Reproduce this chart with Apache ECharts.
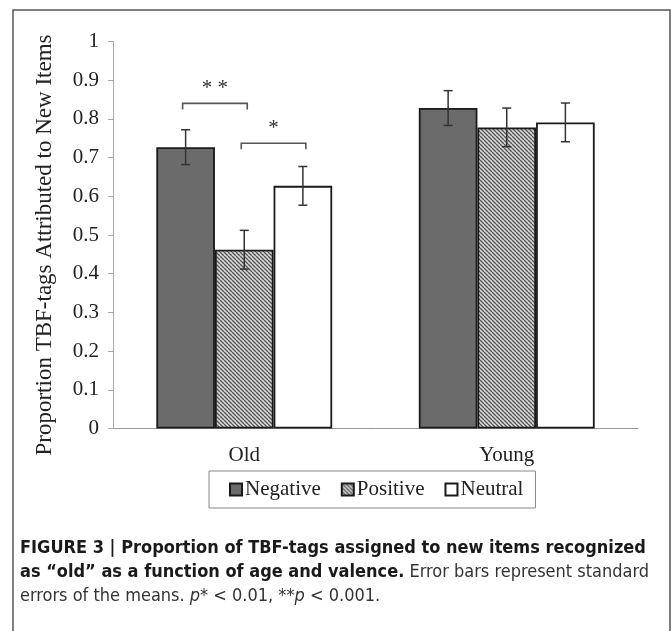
<!DOCTYPE html>
<html>
<head>
<meta charset="utf-8">
<script src="https://cdn.jsdelivr.net/npm/echarts@6/dist/echarts.min.js"></script>
<style>
html,body{margin:0;padding:0;background:#fff;}
#chart{width:671px;height:631px;}
</style>
</head>
<body>
<div id="chart"></div>
<script>
// ---- data ----
const categories = ['Old', 'Young'];
const seriesNames = ['Negative', 'Positive', 'Neutral'];
const negativeMeans = [0.727, 0.828];
const positiveMeans = [0.462, 0.778];
const neutralMeans = [0.627, 0.791];
const negativeSE = [0.045, 0.045];
const positiveSE = [0.050, 0.050];
const neutralSE = [0.050, 0.050];
const yTicks = [0, 0.1, 0.2, 0.3, 0.4, 0.5, 0.6, 0.7, 0.8, 0.9, 1];
// significance brackets: [categoryIndex, fromSeries, toSeries, bracketLevel, label]
const sigBrackets = [
  [0, 0, 1, 0.840, '* *'],
  [0, 1, 2, 0.737, '*']
];
const yAxisTitle = 'Proportion TBF-tags Attributed to New Items';

const serifFont = '"Liberation Serif", "Times New Roman", serif';
const capFont = '"Liberation Sans Narrow", "DejaVu Sans Condensed", "Liberation Sans", sans-serif';

// hatch pattern
function makeHatch() {
  const c = document.createElement('canvas');
  c.width = 4; c.height = 4;
  const g = c.getContext('2d');
  g.fillStyle = '#d8d8d8';
  g.fillRect(0, 0, 4, 4);
  g.strokeStyle = '#555';
  g.lineWidth = 1.3;
  g.beginPath();
  for (let k = -4; k <= 8; k += 4) {
    g.moveTo(k, 0); g.lineTo(k + 4, 4);
  }
  g.stroke();
  return c;
}
const hatch = { image: makeHatch(), repeat: 'repeat' };

const fills = ['#6b6b6b', hatch, '#ffffff'];
const means = [negativeMeans, positiveMeans, neutralMeans];
const ses = [negativeSE, positiveSE, neutralSE];
const gapFrac = 0.33;

const chart = echarts.init(document.getElementById('chart'), null, { renderer: 'canvas' });

const series = [];
seriesNames.forEach((name, k) => {
  series.push({
    name: name,
    type: 'bar',
    data: means[k],
    barGap: '0%',
    barCategoryGap: '33%',
    itemStyle: { color: fills[k], borderColor: '#1a1a1a', borderWidth: 1.8 },
    emphasis: { disabled: true },
    z: 2
  });
});
// error bars
seriesNames.forEach((name, k) => {
  series.push({
    type: 'custom',
    name: name + '-err',
    data: categories.map((c, i) => [i, means[k][i], ses[k][i]]),
    z: 5,
    silent: true,
    renderItem: function (params, api) {
      const ci = api.value(0);
      const m = api.value(1), se = api.value(2);
      const band = api.size([1, 0])[0];
      const bw = band * (1 - gapFrac) / 3;
      const cx = api.coord([ci, m])[0] + (k - 1) * bw;
      const yTop = api.coord([ci, m + se])[1];
      const yBot = api.coord([ci, m - se])[1];
      const cap = 4.5;
      const st = { stroke: '#333', lineWidth: 1.5 };
      return {
        type: 'group',
        children: [
          { type: 'line', shape: { x1: cx, y1: yTop, x2: cx, y2: yBot }, style: st },
          { type: 'line', shape: { x1: cx - cap, y1: yTop, x2: cx + cap, y2: yTop }, style: st },
          { type: 'line', shape: { x1: cx - cap, y1: yBot, x2: cx + cap, y2: yBot }, style: st }
        ]
      };
    }
  });
});
// significance brackets
series.push({
  type: 'custom',
  name: 'sig',
  data: sigBrackets,
  z: 6,
  silent: true,
  renderItem: function (params, api) {
    const ci = api.value(0);
    const a = api.value(1), b = api.value(2), lvl = api.value(3);
    const label = sigBrackets[params.dataIndex][4];
    const band = api.size([1, 0])[0];
    const bw = band * (1 - gapFrac) / 3;
    const p = api.coord([ci, lvl]);
    const x1 = p[0] + (a - 1) * bw - 3;
    const x2 = p[0] + (b - 1) * bw + 3;
    const y = p[1];
    const st = { stroke: '#555', lineWidth: 1.6, fill: null };
    return {
      type: 'group',
      children: [
        { type: 'polyline', shape: { points: [[x1, y + 6], [x1, y], [x2, y], [x2, y + 6]] }, style: st },
        { type: 'text', x: (x1 + x2) / 2, y: y - 4, style: { text: label, fill: '#333', font: '21px ' + serifFont, textAlign: 'center', textVerticalAlign: 'bottom' } }
      ]
    };
  }
});

const option = {
  animation: false,
  backgroundColor: '#ffffff',
  grid: { left: 113, right: 33, top: 41.5, bottom: 202.5, containLabel: false },
  xAxis: {
    type: 'category',
    data: categories,
    axisLine: { show: true, lineStyle: { color: '#999', width: 1 } },
    axisTick: { show: false },
    axisLabel: { color: '#222', fontFamily: serifFont, fontSize: 21, margin: 16 }
  },
  yAxis: {
    type: 'value',
    min: 0, max: 1, interval: 0.1,
    axisLine: { show: true, lineStyle: { color: '#aaa', width: 1 } },
    axisTick: { show: true, inside: false, length: 5, lineStyle: { color: '#aaa' } },
    splitLine: { show: false },
    axisLabel: {
      color: '#222', fontFamily: serifFont, fontSize: 21, margin: 14,
      formatter: function (v) { const t = yTicks.find(x => Math.abs(x - v) < 1e-9); return t === undefined ? '' : String(t); }
    }
  },
  legend: {
    data: seriesNames,
    left: 209, top: 471,
    orient: 'horizontal',
    padding: [8, 12, 8, 20],
    itemGap: 20,
    itemWidth: 12, itemHeight: 12,
    icon: 'rect',
    borderColor: '#888', borderWidth: 1,
    selectedMode: false,
    textStyle: { color: '#222', fontFamily: serifFont, fontSize: 21, padding: [0, 0, 0, -2] }
  },
  graphic: [
    { type: 'rect', shape: { x: 13, y: 10, width: 657, height: 640 }, style: { fill: null, stroke: '#555', lineWidth: 1.5 }, silent: true, z: 100 },
    {
      type: 'text', x: 45, y: 245, rotation: Math.PI / 2, silent: true, z: 100,
      style: { text: yAxisTitle, font: '23px ' + serifFont, fill: '#222', textAlign: 'center', textVerticalAlign: 'middle' }
    },
    {
      type: 'text', left: 20, top: 536, silent: true, z: 100,
      style: {
        text: '{b|FIGURE 3 | Proportion of TBF-tags assigned to new items recognized}\n{b|as \u201cold\u201d as a function of age and valence.}{r| Error bars represent standard}\n{r|errors of the means. }{i|p}{r|* < 0.01, **}{i|p}{r| < 0.001.}',
        font: '18px ' + capFont,
        fill: '#222',
        lineHeight: 24,
        rich: {
          b: { font: 'bold 18px ' + capFont, fill: '#1a1a1a', lineHeight: 24 },
          r: { font: '18px ' + capFont, fill: '#333', lineHeight: 24 },
          i: { font: 'italic 18px ' + capFont, fill: '#333', lineHeight: 24 }
        }
      }
    }
  ],
  series: series
};
chart.setOption(option);
</script>
</body>
</html>
